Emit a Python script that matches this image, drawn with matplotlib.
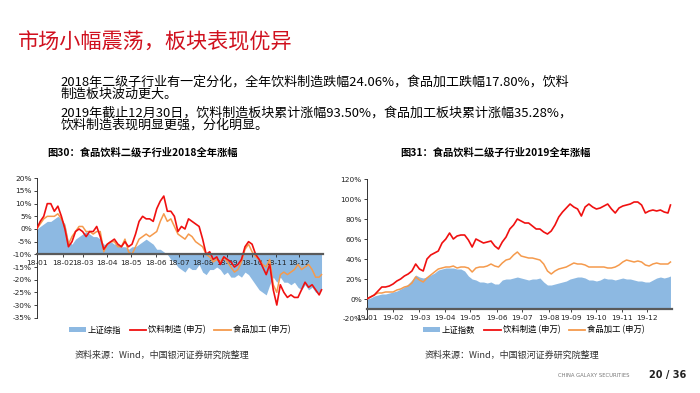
import matplotlib
matplotlib.use("Agg")
import matplotlib.pyplot as plt
from matplotlib.lines import Line2D
from matplotlib.patches import Patch

plt.rcParams["font.family"] = ["Noto Sans CJK SC", "DejaVu Sans"]

# trading-day positions of the sampled points (every 3rd session)
DAYS = list(range(0, 241, 3)) + [242]

# 2018 cumulative change, %
LEFT_INDEX = [0, 1, 2, 3, 3, 4, 5, 4, 2, -5,
              -6, -4, -3, -2, -1, -2, -3, -3, -4, -6,
              -6, -5, -6, -6, -7, -7, -8, -7, -7, -6,
              -5, -4, -5, -6, -8, -8, -9, -10, -12, -13,
              -15, -16, -17, -15, -16, -16, -14, -17, -18, -16,
              -16, -15, -16, -18, -17, -19, -19, -18, -19, -17,
              -18, -20, -22, -24, -25, -26, -22, -19, -21, -19,
              -21, -21, -22, -21, -23, -24, -22, -24, -23, -25,
              -25, -24]
LEFT_DRINK = [0, 3, 5, 10, 10, 7, 9, 5, 0, -7,
              -5, -1, 0, -1, -3, -1, -1, 1, -3, -8,
              -6, -5, -4, -6, -7, -5, -7, -6, -2, 3,
              5, 4, 4, 3, 8, 11, 13, 7, 7, 5,
              -1, 1, 0, 4, 3, 2, 1, -4, -10, -9,
              -12, -11, -14, -11, -12, -13, -15, -14, -12, -7,
              -5, -6, -10, -12, -15, -18, -14, -24, -30, -22,
              -25, -27, -26, -27, -27, -24, -21, -23, -22, -24,
              -26, -24]
LEFT_FOOD = [0, 2, 4, 5, 5, 5, 6, 4, 1, -6,
             -3, -1, 1, 1, -1, -1, -2, -1, -1, -9,
             -6, -5, -5, -7, -7, -4, -9, -10, -7, -4,
             -3, -2, -3, -2, -1, 3, 6, 3, 4, 1,
             -2, -3, -4, -2, -3, -5, -6, -7, -10, -11,
             -13, -12, -13, -11, -13, -15, -17, -16, -13, -8,
             -6, -9, -11, -12, -14, -15, -12, -22, -25, -18,
             -17, -18, -17, -16, -14, -16, -15, -14, -16, -19,
             -19, -18]

# 2019 cumulative change, %
RIGHT_INDEX = [0, 1, 3, 4, 5, 5, 6, 7, 8, 10,
               12, 15, 19, 24, 22, 21, 22, 24, 26, 29,
               30, 31, 31, 31, 30, 30, 28, 23, 20, 19,
               17, 17, 16, 17, 15, 15, 19, 20, 20, 21,
               22, 21, 20, 19, 20, 20, 21, 17, 14, 14,
               15, 16, 17, 18, 20, 21, 22, 22, 21, 19,
               19, 18, 19, 21, 20, 20, 19, 20, 21, 20,
               20, 19, 18, 18, 17, 17, 19, 21, 22, 21,
               22, 23]
RIGHT_DRINK = [0, 2, 4, 8, 12, 12, 13, 15, 18, 20,
               23, 25, 28, 35, 30, 28, 40, 44, 46, 48,
               56, 60, 66, 60, 63, 64, 64, 59, 52, 60,
               58, 56, 57, 58, 53, 50, 57, 62, 70, 74,
               80, 78, 76, 76, 73, 70, 70, 67, 65, 68,
               74, 82, 87, 91, 95, 92, 90, 83, 92, 95,
               92, 90, 91, 93, 95, 90, 86, 91, 93, 94,
               95, 97, 97, 94, 86, 88, 89, 88, 89, 87,
               86, 94]
RIGHT_FOOD = [0, 2, 4, 6, 6, 7, 7, 7, 9, 10,
              12, 13, 16, 22, 19, 17, 21, 24, 27, 30,
              31, 32, 32, 33, 31, 32, 32, 31, 27, 31,
              32, 32, 33, 35, 33, 32, 36, 39, 40, 44,
              47, 43, 42, 41, 41, 40, 39, 35, 28, 25,
              28, 30, 31, 32, 34, 36, 35, 35, 34, 32,
              32, 32, 32, 32, 31, 31, 32, 34, 37, 39,
              38, 37, 38, 37, 34, 33, 35, 36, 35, 35,
              35, 37]

LEFT_TICKS = [0, 22, 39, 60, 80, 101, 121, 141, 162, 183, 203, 223]
RIGHT_TICKS = [0, 21, 42, 62, 82, 104, 124, 145, 163, 183, 203, 223]
LEFT_MONTHS = [f"18-{m:02d}" for m in range(1, 13)]
RIGHT_MONTHS = [f"19-{m:02d}" for m in range(1, 13)]

BLUE = "#8DB9E2"
RED = "#F01010"
ORANGE = "#F59A4C"
AXIS = "#5A5A5A"


def draw_panel(ax, index, drink, food, ticks, months, ylim, ystep):
    # spine position first: set_position resets the tick labels
    ax.spines["top"].set_visible(False)
    ax.spines["right"].set_visible(False)
    ax.spines["bottom"].set_position(("data", -10))
    ax.spines["bottom"].set_color(AXIS)
    ax.spines["bottom"].set_linewidth(1.6)
    ax.spines["bottom"].set_zorder(5)
    ax.spines["left"].set_color("#333333")
    ax.spines["left"].set_linewidth(0.7)

    ax.fill_between(DAYS, -10, index, color=BLUE, linewidth=0, zorder=1)
    ax.plot(DAYS, food, color=ORANGE, linewidth=1.1, zorder=3)
    ax.plot(DAYS, drink, color=RED, linewidth=1.2, zorder=4)
    ax.set_xlim(0, 243)
    ax.set_ylim(*ylim)
    yt = list(range(ylim[0], ylim[1] + 1, ystep))
    ax.set_yticks(yt)
    ax.set_yticklabels([f"{v}%" for v in yt], fontsize=5.3, family="DejaVu Sans")
    ax.set_xticks(ticks)
    ax.set_xticklabels(months, fontsize=5.3, family="DejaVu Sans")
    ax.tick_params(axis="y", length=2, width=0.6, pad=1.5, colors="#222222")
    ax.tick_params(axis="x", length=2, width=0.6, pad=2, colors="#222222")
    ax.patch.set_alpha(0)


fig = plt.figure(figsize=(7.0, 3.93), dpi=100, facecolor="white")

ax_l = fig.add_axes([0.0524, 0.1916, 0.4086, 0.3547])
ax_r = fig.add_axes([0.5239, 0.1883, 0.4357, 0.3562])
draw_panel(ax_l, LEFT_INDEX, LEFT_DRINK, LEFT_FOOD, LEFT_TICKS, LEFT_MONTHS, (-35, 20), 5)
draw_panel(ax_r, RIGHT_INDEX, RIGHT_DRINK, RIGHT_FOOD, RIGHT_TICKS, RIGHT_MONTHS, (-20, 120), 20)

fig.text(0.026, 0.892, "市场小幅震荡，板块表现优异", fontsize=15.2, color="#D0101E", va="center")

body = [
    (0.792, "2018年二级子行业有一定分化，全年饮料制造跌幅24.06%，食品加工跌幅17.80%，饮料"),
    (0.760, "制造板块波动更大。"),
    (0.713, "2019年截止12月30日，饮料制造板块累计涨幅93.50%，食品加工板块累计涨幅35.28%，"),
    (0.683, "饮料制造表现明显更强，分化明显。"),
]
for y, line in body:
    fig.text(0.087, y, line, fontsize=9.4, color="black", va="center")

fig.text(0.204, 0.612, "图30：食品饮料二级子行业2018全年涨幅", fontsize=7.4,
         fontweight="bold", ha="center", va="center")
fig.text(0.708, 0.612, "图31：食品饮料二级子行业2019全年涨幅", fontsize=7.4,
         fontweight="bold", ha="center", va="center")


def legend_for(first, cx):
    handles = [
        Patch(facecolor=BLUE, edgecolor="none"),
        Line2D([], [], color=RED, linewidth=1.3),
        Line2D([], [], color=ORANGE, linewidth=1.3),
    ]
    labels = [first, "饮料制造 (申万)", "食品加工 (申万)"]
    fig.legend(handles, labels, loc="center", bbox_to_anchor=(cx, 0.16), ncol=3,
               frameon=False, fontsize=6, handlelength=2.0, handleheight=0.5,
               handletextpad=0.25, columnspacing=1.0)


legend_for("上证综指", 0.257)
legend_for("上证指数", 0.763)

fig.text(0.107, 0.096, "资料来源：Wind，中国银河证券研究院整理", fontsize=6.5,
         color="#333333", va="center")
fig.text(0.606, 0.096, "资料来源：Wind，中国银河证券研究院整理", fontsize=6.5,
         color="#333333", va="center")

fig.text(0.9, 0.045, "CHINA GALAXY SECURITIES", fontsize=3.8, color="#777777",
         ha="right", va="center", family="DejaVu Sans")
fig.text(0.98, 0.045, "20 / 36", fontsize=7, fontweight="bold", color="#222222",
         ha="right", va="center", family="DejaVu Sans")

fig.savefig("out.png", dpi=100, facecolor="white")
